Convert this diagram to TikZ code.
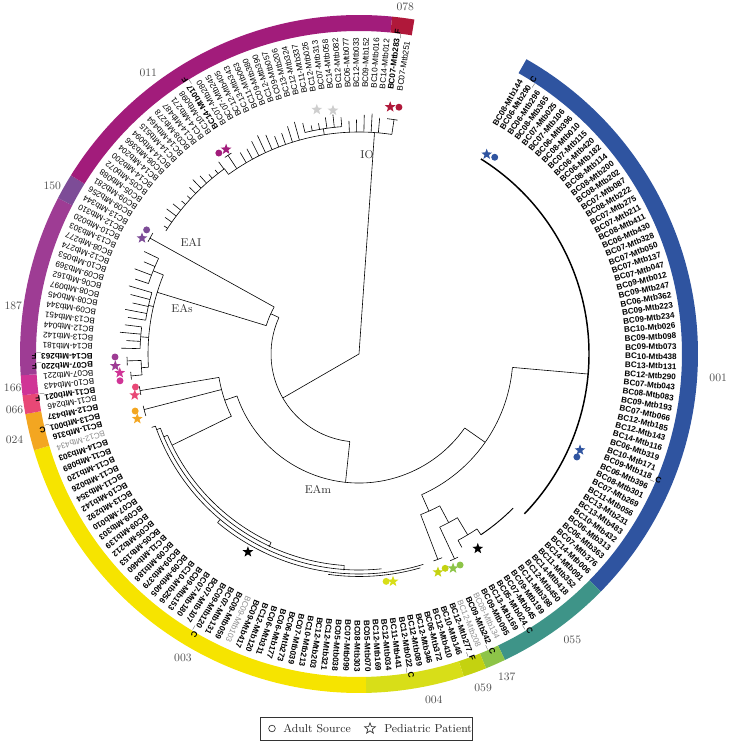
\documentclass[tikz,border=0pt]{standalone}
\usepackage{fontspec}
\newfontfamily\labfont{Liberation Sans}
\usetikzlibrary{shapes.geometric}
\definecolor{cA}{RGB}{47,84,160}
\definecolor{cB}{RGB}{62,148,136}
\definecolor{cC}{RGB}{141,196,72}
\definecolor{cD}{RGB}{196,210,16}
\definecolor{cE}{RGB}{216,222,24}
\definecolor{cF}{RGB}{246,228,0}
\definecolor{cG}{RGB}{243,166,33}
\definecolor{cH}{RGB}{232,72,118}
\definecolor{cI}{RGB}{208,52,150}
\definecolor{cJ}{RGB}{158,60,148}
\definecolor{cK}{RGB}{125,76,151}
\definecolor{cL}{RGB}{162,28,123}
\definecolor{cM}{RGB}{176,24,58}
\definecolor{cS}{RGB}{206,206,206}
\definecolor{ringtxt}{RGB}{80,80,80}
\begin{document}
\begin{tikzpicture}[x=0.75pt,y=0.75pt,
  br/.style={line width=0.45pt,black},
  lB/.style={inner sep=0pt,anchor=west,font=\labfont\bfseries\fontsize{6.1}{7}\selectfont},
  lR/.style={inner sep=0pt,anchor=west,font=\labfont\fontsize{6.1}{7}\selectfont},
  lG/.style={inner sep=0pt,anchor=west,text=black!45,font=\labfont\fontsize{6.1}{7}\selectfont},
  ringlab/.style={inner sep=0pt,text=ringtxt,font=\fontsize{8.5}{10}\selectfont},
  cladelab/.style={inner sep=0pt,text=black!80,font=\fontsize{8.5}{10}\selectfont},
  mystar/.style={star,star points=5,star point ratio=2.4,inner sep=0pt,minimum size=8.5pt,fill=#1},
  mydot/.style={circle,inner sep=0pt,minimum size=5.2pt,fill=#1}]
\useasboundingbox (0,0) rectangle (728,741);
\begin{scope}[shift={(359,387)}]
% ---------------- ring ----------------
\newcommand\seg[3]{\fill[#1] (#2:323) arc[start angle=#2,end angle=#3,radius=323] -- (#3:339) arc[start angle=#3,end angle=#2,radius=339] -- cycle;}
\seg{cA}{60.4}{-44.5}
\seg{cB}{-44.5}{-64.5}
\seg{cC}{-64.5}{-68}
\seg{cD}{-68}{-72}
\seg{cE}{-72}{-88.8}
\seg{cF}{-88.8}{-163.5}
\seg{cG}{-163.5}{-169.8}
\seg{cH}{-169.8}{-173}
\seg{cI}{-173}{-176.4}
\seg{cJ}{-176.4}{-207.4}
\seg{cK}{-207.4}{-211.8}
\seg{cL}{-211.8}{-275.6}
\seg{cM}{-275.6}{-279.4}
\node[ringlab] (r001) at (-3.8:360) {001};
\node[ringlab] (r055) at (-53.3:357) {055};
\node[ringlab] (r137) at (-65.4:355) {137};
\node[ringlab] (r059) at (-69.6:356) {059};
\node[ringlab] (r004) at (-77.8:354) {004};
\node[ringlab] (r003) at (-120.1:351) {003};
\node[ringlab] (r024) at (-166:355) {024};
\node[ringlab] (r066) at (-170.8:349) {066};
\node[ringlab] (r166) at (-174.4:348) {166};
\node[ringlab] (r187) at (172.1:349) {187};
\node[ringlab] (r150) at (151.2:350) {150};
\node[ringlab] (r011) at (126.9:351) {011};
\node[ringlab] (r078) at (82.4:350) {078};
% ---------------- leaf labels ----------------
\foreach \n/\s [count=\i from 0] in {
BC08-Mtb144/lB,BC06-Mtb290\_C/lB,BC06-Mtb296/lB,BC08-Mtb365/lB,BC07-Mtb025/lB,BC07-Mtb106/lB,BC06-Mtb396/lB,BC08-Mtb010/lB,BC07-Mtb115/lB,BC06-Mtb420/lB,
BC06-Mtb182/lB,BC08-Mtb114/lB,BC08-Mtb200/lB,BC08-Mtb202/lB,BC07-Mtb087/lB,BC08-Mtb222/lB,BC07-Mtb275/lB,BC07-Mtb211/lB,BC08-Mtb411/lB,BC06-Mtb430/lB,
BC07-Mtb328/lB,BC07-Mtb050/lB,BC07-Mtb137/lB,BC07-Mtb047/lB,BC09-Mtb012/lB,BC09-Mtb247/lB,BC06-Mtb362/lB,BC09-Mtb223/lB,BC09-Mtb234/lB,BC10-Mtb026/lB,
BC09-Mtb098/lB,BC09-Mtb073/lB,BC10-Mtb438/lB,BC13-Mtb131/lB,BC12-Mtb290/lB,BC07-Mtb043/lB,BC08-Mtb083/lB,BC09-Mtb193/lB,BC07-Mtb066/lB,BC12-Mtb185/lB,
BC12-Mtb143/lB,BC14-Mtb116/lB,BC06-Mtb319/lB,BC10-Mtb171/lB,BC09-Mtb118\_C/lB,BC06-Mtb396/lB,BC08-Mtb301/lB,BC07-Mtb269/lB,BC11-Mtb056/lB,BC13-Mtb231/lB,
BC13-Mtb483/lB,BC10-Mtb432/lB,BC06-Mtb313/lB,BC06-Mtb363/lB,BC07-Mtb376/lB,BC14-Mtb006/lB,BC14-Mtb091/lB,BC11-Mtb352/lB,BC14-Mtb418/lB,BC12-Mtb450/lB,
BC11-Mtb398/lB,BC09-Mtb199/lB,BC07-Mtb045/lB,BC05-Mtb024\_C/lB,BC13-Mtb169/lB,BC09-Mtb095/lB,BC08-Mtb134/lG,BC09-Mtb242\_C/lB,BC12-Mtb208/lG,BC12-Mtb277\_F/lB,
BC10-Mtb146/lB,BC12-Mtb410/lB,BC06-Mtb372/lB,BC12-Mtb346/lB,BC12-Mtb089/lB,BC12-Mtb022\_C/lB,BC11-Mtb441/lB,BC12-Mtb034/lB,BC12-Mtb169/lB,BC05-Mtb070/lB,
BC08-Mtb303/lB,BC07-Mtb099/lB,BC05-Mtb038/lB,BC12-Mtb321/lB,BC12-Mtb203/lB,BC10-Mtb213/lB,BC07-Mtb039/lB,BC06-Mtb273/lB,BC06-Mtb177/lB,BC06-Mtb311/lB,
BC12-Mtb120/lB,BC09-Mtb417/lB,BC09-Mtb103/lG,BC09-Mtb059/lB,BC07-Mtb131/lB,BC09-Mtb120\_C/lB,BC07-Mtb107/lB,BC07-Mtb180/lB,BC09-Mtb153/lB,BC10-Mtb256/lB,
BC09-Mtb405/lB,BC09-Mtb379/lB,BC09-Mtb188/lB,BC11-Mtb460/lB,BC05-Mtb153/lB,BC05-Mtb212/lB,BC09-Mtb139/lB,BC09-Mtb303/lB,BC07-Mtb010/lB,BC13-Mtb292/lB,
BC10-Mtb142/lB,BC11-Mtb354/lB,BC11-Mtb026/lB,BC11-Mtb120/lB,BC11-Mtb089/lB,BC14-Mtb303/lB,BC12-Mtb434/lG,BC11-Mtb316/lB,BC13-Mtb001\_C/lB,BC12-Mtb437/lB,
BC11-Mtb246/lR,BC11-Mtb021\_F/lB,BC10-Mtb443/lR,BC07-Mtb221/lR,BC07-Mtb220\_F/lB,BC14-Mtb263\_F/lB,BC14-Mtb181/lR,BC13-Mtb142/lR,BC12-Mtb044/lR,BC13-Mtb451/lR,
BC09-Mtb344/lR,BC08-Mtb045/lR,BC08-Mtb097/lR,BC06-Mtb162/lR,BC09-Mtb369/lR,BC10-Mtb053/lR,BC12-Mtb274/lR,BC08-Mtb277/lR,BC13-Mtb303/lR,BC10-Mtb020/lR,
BC12-Mtb310/lR,BC13-Mtb344/lR,BC09-Mtb256/lR,BC09-Mtb281/lR,BC05-Mtb088/lR,BC05-Mtb072/lR,BC14-Mtb200/lR,BC14-Mtb204/lR,BC08-Mtb366/lR,BC14-Mtb094/lR,
BC14-Mtb515/lR,BC14-Mtb464/lR,BC08-Mtb278/lR,BC14-Mtb487/lR,BC14-Mtb271/lR,BC10-Mtb098/lR,BC14-Mtb017\_F/lB,BC07-Mtb280/lR,BC07-Mtb245/lR,BC12-Mtb405/lR,
BC13-Mtb343/lR,BC11-Mtb063/lR,BC09-Mtb380/lR,BC12-Mtb390/lR,BC09-Mtb057/lR,BC13-Mtb206/lR,BC12-Mtb324/lR,BC11-Mtb337/lR,BC12-Mtb026/lR,BC07-Mtb313/lR,
BC14-Mtb058/lR,BC12-Mtb082/lR,BC06-Mtb077/lR,BC12-Mtb033/lR,BC09-Mtb152/lR,BC10-Mtb016/lR,BC14-Mtb012/lR,BC07-Mtb283\_F/lB,BC07-Mtb251/lR}
{
  \pgfmathsetmacro\a{ifthenelse(\i<80,59.4-1.87*\i,ifthenelse(\i<117,-88.3-(\i-79)*2.0105,-164.7-1.87*(\i-117)))}
  \node[\s,rotate=\a] (L\i) at (\a:266) {\n};
}
% ---------------- tree ----------------
\begin{scope}[br]
\draw (86:222) -- (0,0) -- (210:88);
\draw (155.5:88) arc[start angle=155.5,end angle=264,radius=88];
\draw (155.5:88) -- (155.5:97);
\draw (151:97) arc[start angle=151,end angle=163,radius=97];
\draw (151:97) -- (151:239);
\draw (149.6:239) arc[start angle=149.6,end angle=152,radius=239];
\draw (163:97) -- (163:211);
\draw (158:211) arc[start angle=158,end angle=183.6,radius=211];
\draw (158:211) -- (158:222);
\draw (154.5:222) arc[start angle=154.5,end angle=161.5,radius=222];
\draw (154.5:222) -- (154.5:238);
\draw (156.8:222) -- (156.8:234);
\draw (159.2:222) -- (159.2:240);
\draw (161.5:222) -- (161.5:236);
\draw (167:211) -- (167:216);
\draw (163.5:216) arc[start angle=163.5,end angle=171,radius=216];
\draw (163.5:216) -- (163.5:240);
\draw (165.4:216) -- (165.4:236);
\draw (167.3:216) -- (167.3:232);
\draw (169.2:216) -- (169.2:238);
\draw (171:216) -- (171:234);
\draw (175.5:211) -- (175.5:219);
\draw (172.9:219) arc[start angle=172.9,end angle=178.6,radius=219];
\draw (172.9:219) -- (172.9:236);
\draw (174.8:219) -- (174.8:240);
\draw (176.7:219) -- (176.7:233);
\draw (178.6:219) -- (178.6:238);
\draw (183.6:211) -- (183.6:218);
\draw (181.7:218) arc[start angle=181.7,end angle=185.5,radius=218];
\draw (181.7:218) -- (181.7:232);
\draw (180.7:232) arc[start angle=180.7,end angle=182.8,radius=232];
\draw (185.5:218) -- (185.5:229);
\draw (184.5:229) arc[start angle=184.5,end angle=186.4,radius=229];
\draw (264:88) -- (264:129);
\draw (199:129) arc[start angle=199,end angle=325,radius=129];
\draw (199:129) -- (199:142);
\draw (189.5:142) arc[start angle=189.5,end angle=206,radius=142];
\draw (189.5:142) -- (189.5:222);
\draw (188.4:222) arc[start angle=188.4,end angle=190.6,radius=222];
\draw (194.5:142) -- (194.5:222);
\draw (193.5:222) arc[start angle=193.5,end angle=196.2,radius=222];
\draw (206:142) -- (206:208);
\draw (203:208) arc[start angle=203,end angle=245,radius=208];
\draw (203:208) -- (203:212);
\draw (200.5:212) arc[start angle=200.5,end angle=266,radius=212];
\draw (200.5:212) -- (200.5:216);
\draw (199.5:216) arc[start angle=199.5,end angle=276,radius=216];
\draw (245:208) -- (245:213);
\draw (266:212) -- (266:217);
\draw (230:216) -- (230:220);
\draw (230:220) arc[start angle=230,end angle=287,radius=220];
\draw (262:222.5) arc[start angle=262,end angle=286,radius=222.5];
\draw (199.5:216) -- (199.5:220);
\draw (325:129) -- (325:154);
\draw (-66:154) arc[start angle=-66,end angle=-5,radius=154];
\draw (-5:154) -- (-5:230);
\draw[line width=1.1pt] (58:230) arc[start angle=58,end angle=-44,radius=230];
\draw (-66:154) -- (-66:172);
\draw (-69:172) arc[start angle=-69,end angle=-62,radius=172];
\draw (-69:172) -- (-69:220);
\draw (-70.2:220) arc[start angle=-70.2,end angle=-67.8,radius=220];
\draw (-62:172) -- (-62:191);
\draw (-65:191) arc[start angle=-65,end angle=-59,radius=191];
\draw (-65:191) -- (-65:226);
\draw (-66.2:226) arc[start angle=-66.2,end angle=-64,radius=226];
\draw (-59:191) -- (-59:211);
\draw (-62:211) arc[start angle=-62,end angle=-56,radius=211];
\draw (-62:211) -- (-62:219);
\draw (-56:211) -- (-56:218);
\draw[line width=0.7pt] (-56:218) arc[start angle=-56,end angle=-45,radius=218];
\draw (81.5:222) arc[start angle=81.5,end angle=126,radius=222];
\draw (126:222) -- (126:229);
\draw (126:229) arc[start angle=126,end angle=147.5,radius=229];
\draw (81.5:222) -- (81.5:237);
\draw (80.6:237) arc[start angle=80.6,end angle=83.2,radius=237];
\draw (99:222) -- (99:228);
\draw (94.35:228) arc[start angle=94.35,end angle=103.7,radius=228];
\draw (123.4:222) -- (123.4:238);
\draw (122.4:238) arc[start angle=122.4,end angle=124.3,radius=238];
\foreach \k in {0,...,19,22,23,...,33}{
  \pgfmathsetmacro\t{85+1.87*\k}
  \pgfmathsetmacro\rb{ifthenelse(\t>126,229,ifthenelse(and(\k>4,\k<11),228,222))}
  \pgfmathsetmacro\rt{237+4*sin(\k*73)}
  \draw (\t:\rb) -- (\t:\rt);
}
\end{scope}
\node[cladelab] (tIO) at (8,199) {IO};
\node[cladelab] (tEAI) at (-168,112) {EAI};
\node[cladelab] (tEAs) at (-177,45) {EAs};
\node[cladelab] (tEAm) at (-41,-135) {EAm};
% ---------------- symbols ----------------
\node[mystar=cM] (s1) at (82.8:249) {};
\node[mydot=cM] (d1) at (80.8:250) {};
\node[mystar=cS] (s2) at (99.8:248) {};
\node[mystar=cS] (s3) at (96.1:245) {};
\node[mystar=cL] (s4) at (123:244) {};
\node[mydot=cL] (d4) at (124.9:245) {};
\node[mystar=cK] (s5) at (151.9:246) {};
\node[mydot=cK] (d5) at (149.7:246) {};
\node[mydot=cJ] (d6) at (180.7:244) {};
\node[mystar=cJ] (s6) at (182.8:244) {};
\node[mystar=cI] (s7) at (184.5:240) {};
\node[mydot=cI] (d7) at (186.4:240.5) {};
\node[mydot=cH] (d8) at (188.4:226) {};
\node[mystar=cH] (s8) at (190.4:228) {};
\node[mydot=cG] (d9) at (194.3:231) {};
\node[mystar=cG] (s9) at (196.3:231) {};
\node[mystar=black] (s10) at (240.7:227) {};
\node[mydot=cE] (d11) at (-83.2:229) {};
\node[mystar=cE] (s11) at (-81.5:230) {};
\node[mystar=cD] (s12) at (-70.1:232) {};
\node[mydot=cD] (d12) at (-68.1:231) {};
\node[mystar=cC] (s13) at (-66.3:234) {};
\node[mydot=cC] (d13) at (-64.4:234) {};
\node[mystar=black] (s14) at (-58.6:228) {};
\node[mystar=cA] (s15) at (57.4:237) {};
\node[mydot=cA] (d15) at (55.4:239) {};
\node[mystar=cA] (s16) at (-23.5:241) {};
\node[mydot=cA] (d16) at (-25.3:241) {};
\end{scope}
% ---------------- legend ----------------
\draw[line width=0.6pt,black!80] (260,1) rectangle (472,24);
\node[circle,draw=black!80,line width=0.5pt,inner sep=0pt,minimum size=5pt] (lgc) at (272,12.5) {};
\node[anchor=west,inner sep=0pt,text=black!85,font=\fontsize{8.6}{10}\selectfont] (lga) at (283,12.5) {Adult Source};
\node[star,star points=5,star point ratio=2.4,draw=black!80,line width=0.5pt,inner sep=0pt,minimum size=8.5pt] (lgs) at (370,12.5) {};
\node[anchor=west,inner sep=0pt,text=black!85,font=\fontsize{8.6}{10}\selectfont] (lgp) at (384,12.5) {Pediatric Patient};
\end{tikzpicture}
\end{document}
